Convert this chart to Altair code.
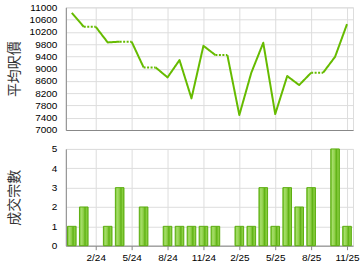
import json
import altair as alt
import pandas as pd

# ---- data ----
months = ["12/23", "1/24", "2/24", "3/24", "4/24", "5/24", "6/24", "7/24",
          "8/24", "9/24", "10/24", "11/24", "12/24", "1/25", "2/25", "3/25",
          "4/25", "5/25", "6/25", "7/25", "8/25", "9/25", "10/25", "11/25"]
avg_price = [10820, 10365, None, 9856, 9880, None, 9042, None,
             8716, 9280, 8032, 9746, 9443, None, 7489, 8867,
             9844, 7521, 8759, 8466, 8867, None, 9388, 10453]
counts = [1, 2, 0, 1, 3, 0, 2, 0, 1, 1, 1, 1, 1, 0, 1, 1, 3, 1, 3, 2, 3, 0, 5, 1]
x_tick_idx = [2, 5, 8, 11, 14, 17, 20, 23]
price_ticks = list(range(7000, 11001, 400))
count_ticks = [0, 1, 2, 3, 4, 5]

# carried-forward values for missing months (drawn dotted)
eff = []
for v in avg_price:
    eff.append(v if v is not None else eff[-1])

rows = []
run = 0
cur_style = None
for i in range(1, len(months)):
    style = "dotted" if avg_price[i] is None else "solid"
    if style != cur_style:
        run += 1
        cur_style = style
        rows.append({"run": run, "style": style, "m": i - 1, "v": eff[i - 1]})
    rows.append({"run": run, "style": style, "m": i, "v": eff[i]})
line_df = pd.DataFrame(rows)

bar_df = pd.DataFrame({"m": list(range(len(months))), "n": counts})
bar_df = bar_df[bar_df["n"] > 0]

label_expr = f"{json.dumps(months)}[datum.value]"
xscale = alt.Scale(domain=[-0.5, len(months) - 0.5], nice=False, zero=False)

FONT = "Liberation Sans"
CJK = "Noto Sans CJK TC"
title_style = dict(titleFont=CJK, titleFontSize=14, titleFontWeight="normal",
                   titleColor="#333333", titleX=-51, titleBaseline="middle",
                   titleAlign="center", titleAngle=270)

top = alt.Chart(line_df).mark_line(
    color="#66BB00", strokeWidth=2, strokeJoin="round"
).encode(
    x=alt.X("m:Q", scale=xscale,
            axis=alt.Axis(values=x_tick_idx, labels=False, ticks=False, title=None,
                          grid=True)),
    y=alt.Y("v:Q", scale=alt.Scale(domain=[7000, 11000], nice=False, zero=False),
            axis=alt.Axis(values=price_ticks, format="d", title="平均呎價", ticks=False,
                          labelPadding=9, titleY=61.5, **title_style)),
    detail="run:N",
    order="m:Q",
    strokeDash=alt.StrokeDash("style:N",
                              scale=alt.Scale(domain=["solid", "dotted"],
                                              range=[[1, 0], [2, 1.5]]),
                              legend=None),
).properties(width=288, height=123)

grad = alt.Gradient(
    gradient="linear", x1=0, x2=1, y1=0, y2=0,
    stops=[
        alt.GradientStop(offset=0, color="#6cc021"),
        alt.GradientStop(offset=0.2, color="#a6de6a"),
        alt.GradientStop(offset=0.45, color="#90d04a"),
        alt.GradientStop(offset=0.65, color="#5fb214"),
        alt.GradientStop(offset=0.85, color="#8ccf44"),
        alt.GradientStop(offset=1, color="#6cbf20"),
    ],
)

bottom = alt.Chart(bar_df).mark_bar(
    color=grad, stroke="#5cae10", strokeWidth=1
).transform_calculate(
    x0="datum.m - 0.36", x1="datum.m + 0.36"
).encode(
    x=alt.X("x0:Q", scale=xscale,
            axis=alt.Axis(values=x_tick_idx, labelExpr=label_expr, title=None,
                          ticks=True, tickSize=4, labelPadding=3, grid=True,
                          labelFlush=False)),
    x2="x1:Q",
    y=alt.Y("n:Q", scale=alt.Scale(domain=[0, 5], nice=False),
            axis=alt.Axis(values=count_ticks, format="d", title="成交宗數", ticks=False,
                          labelPadding=9, titleY=48.5, **title_style)),
    y2=alt.datum(0),
).properties(width=288, height=97)

chart = alt.vconcat(top, bottom, spacing=7).properties(
    padding={"left": 7, "top": 1, "right": 0, "bottom": 0},
).configure_view(stroke=None).configure_axis(
    labelFont=FONT, labelFontSize=11, labelColor="#333333",
    domainColor="#a0a0a0", domainWidth=1.5, tickColor="#a0a0a0",
    gridColor="#dddddd", gridWidth=1,
).configure(background="white")

chart.save("out.html", embed_options={"renderer": "svg", "actions": False})
